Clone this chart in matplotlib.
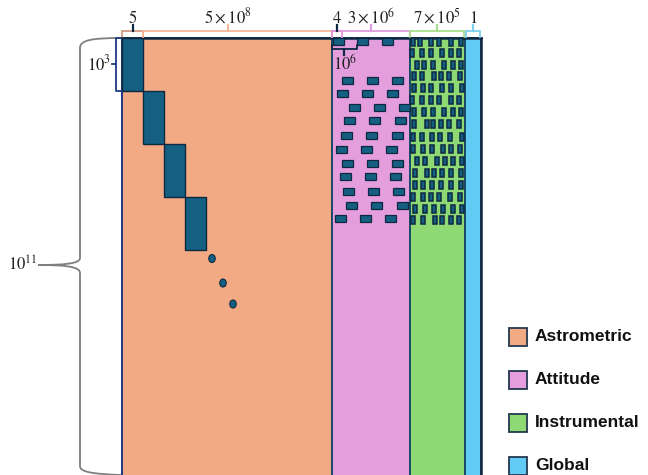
import matplotlib.pyplot as plt
from matplotlib.patches import Rectangle, Ellipse, PathPatch
from matplotlib.path import Path

# Parameter blocks of the normal matrix (pixel layout of the schematic)
section_names = ['Astrometric', 'Attitude', 'Instrumental', 'Global']
section_colors = ['#f2aa84', '#e59edd', '#8ed973', '#61cbf3']
section_edges = [122, 332, 410, 465, 481]
matrix_top, matrix_bottom = 38, 480

# size labels above the columns
top_labels = [r'$5$', r'$5\times10^{8}$', r'$4$', r'$3\times10^{6}$',
              r'$7\times10^{5}$', r'$1$']
top_spans = [(122, 143), (143, 332), (332, 342), (342, 410), (410, 464), (466, 480)]
top_ticks = [133, 228, 337, 371, 437, 473]
top_colors = ['#d39a82', '#f5b89a', '#d98fd6', '#e29ee0', '#a8df8e', '#7fd0ef']
tick_colors = ['#0e2841', '#f5b89a', '#0e2841', '#e29ee0', '#a8df8e', '#7fd0ef']

# astrometric diagonal blocks (5 x 1000 each) and continuation dots
star_block_x = [122, 143, 164, 185]
star_block_y = [38, 91, 144, 197]
star_block_w, star_block_h = 21, 53
dots_x = [212, 223, 233]
dots_y = [258.5, 283, 304]

# attitude sparse blocks: row top -> block left edges
att_rows_y = [38, 77, 90, 104, 117, 132, 146, 160, 173, 188, 202, 215]
att_rows_x = [[333, 357, 382], [342, 367, 392], [337, 362, 387], [349, 374, 399],
              [344, 369, 395], [341, 366, 392], [336, 361, 386], [342, 367, 392],
              [340, 365, 390], [343, 368, 393], [346, 371, 397], [335, 360, 385]]

# instrumental sparse blocks
inst_rows_y = [38, 49, 61, 72, 84, 96, 108, 120, 133, 145, 157, 169, 181, 193, 205, 216]
inst_rows_x = [[411, 418, 429, 437, 449, 459], [410, 420, 429, 440, 449, 457],
               [415, 422, 431, 442, 451, 459], [412, 420, 432, 439, 447, 458],
               [412, 421, 429, 440, 449, 460], [410, 420, 429, 437, 449, 457],
               [412, 422, 431, 442, 451, 459], [412, 425, 431, 439, 447, 457],
               [411, 420, 430, 438, 448, 460], [411, 421, 430, 441, 449, 458],
               [415, 423, 435, 443, 451, 460], [413, 425, 432, 440, 449, 459],
               [413, 421, 430, 439, 449, 459], [411, 421, 429, 437, 448, 458],
               [413, 423, 432, 441, 451, 460], [411, 421, 433, 440, 449, 457]]

dark = '#156082'
navy = '#0e2841'
edge = '#1b4a68'

plt.rcParams['mathtext.fontset'] = 'stix'

fig = plt.figure(figsize=(6.48, 4.75), dpi=100)
ax = fig.add_axes([0, 0, 1, 1])
ax.set_xlim(0, 648)
ax.set_ylim(475, 0)
ax.axis('off')

# column sections
for i in range(4):
    x0, x1 = section_edges[i], section_edges[i + 1]
    ax.add_patch(Rectangle((x0, matrix_top), x1 - x0, matrix_bottom - matrix_top,
                           facecolor=section_colors[i], edgecolor=edge, lw=1.4))
ax.plot([section_edges[0], section_edges[-1]], [matrix_top, matrix_top],
        color=navy, lw=1.8)
ax.plot([section_edges[-1], section_edges[-1]], [matrix_top, matrix_bottom],
        color=navy, lw=1.8)
ax.plot([section_edges[0], section_edges[0]], [matrix_top, matrix_bottom],
        color='#1f3a8a', lw=1.2)

# diagonal star blocks
for bx, by in zip(star_block_x, star_block_y):
    ax.add_patch(Rectangle((bx, by), star_block_w, star_block_h,
                           facecolor=dark, edgecolor=navy, lw=1.0, zorder=3))
for dx, dy in zip(dots_x, dots_y):
    ax.add_patch(Ellipse((dx, dy), 6.5, 8, facecolor=dark, edgecolor=navy,
                         lw=0.8, zorder=3))

# attitude blocks
for ry, xs in zip(att_rows_y, att_rows_x):
    for rx in xs:
        ax.add_patch(Rectangle((rx, ry), 11, 7, facecolor=dark, edgecolor=navy,
                               lw=0.9, zorder=3))

# instrumental blocks
for ry, xs in zip(inst_rows_y, inst_rows_x):
    for rx in xs:
        ax.add_patch(Rectangle((rx, ry), 4.2, 7.8, facecolor=dark, edgecolor=navy,
                               lw=1.1, zorder=3))

# top brackets with labels
for lab, (x0, x1), tx, c, tc in zip(top_labels, top_spans, top_ticks,
                                     top_colors, tick_colors):
    ax.plot([x0, x0, x1, x1], [37, 31, 31, 37], color=c, lw=1.3,
            solid_joinstyle='miter')
    ax.plot([tx, tx], [31, 25], color=tc, lw=1.6)
    ax.text(tx, 23, lab, ha='center', va='baseline', fontsize=12, color='#222222')

# 10^6 bracket under the first attitude row
ax.plot([332, 332, 357, 357], [45, 49, 49, 45], color=navy, lw=1.3)
ax.plot([344, 344], [49, 55], color=navy, lw=1.6)
ax.text(345, 70, r'$10^{6}$', ha='center', va='baseline', fontsize=12,
        color='#222222')

# 10^3 bracket left of the first star block
ax.plot([122, 116, 116, 122], [38, 38, 91, 91], color='#1f3a8a', lw=1.3)
ax.plot([116, 112], [64, 64], color='#1f3a8a', lw=1.3)
ax.text(111, 64, r'$10^{3}$', ha='right', va='center', fontsize=12,
        color='#222222')

# 10^11 curly brace spanning the rows
verts = [(122, 38), (92, 38), (80, 40), (80, 48),
         (80, 258),
         (80, 264), (62, 265), (38, 265),
         (62, 265), (80, 266), (80, 273),
         (80, 466),
         (80, 472), (92, 474), (122, 475)]
codes = [Path.MOVETO, Path.CURVE4, Path.CURVE4, Path.CURVE4,
         Path.LINETO,
         Path.CURVE4, Path.CURVE4, Path.CURVE4,
         Path.CURVE4, Path.CURVE4, Path.CURVE4,
         Path.LINETO,
         Path.CURVE4, Path.CURVE4, Path.CURVE4]
ax.add_patch(PathPatch(Path(verts, codes), facecolor='none', edgecolor='#7f7f7f',
                       lw=1.3))
ax.text(37, 265, r'$10^{11}$', ha='right', va='center', fontsize=12,
        color='#222222')

# legend
legend_y = [336.5, 379.5, 422.5, 465.5]
for name, col, ly in zip(section_names, section_colors, legend_y):
    ax.add_patch(Rectangle((508.5, ly - 9), 18, 18, facecolor=col,
                           edgecolor='#23384f', lw=1.3))
    ax.text(535, ly, name, ha='left', va='center', fontsize=12.5,
            fontweight='bold', family='Liberation Sans', color='#111111')

fig.savefig('out.png', dpi=100)
